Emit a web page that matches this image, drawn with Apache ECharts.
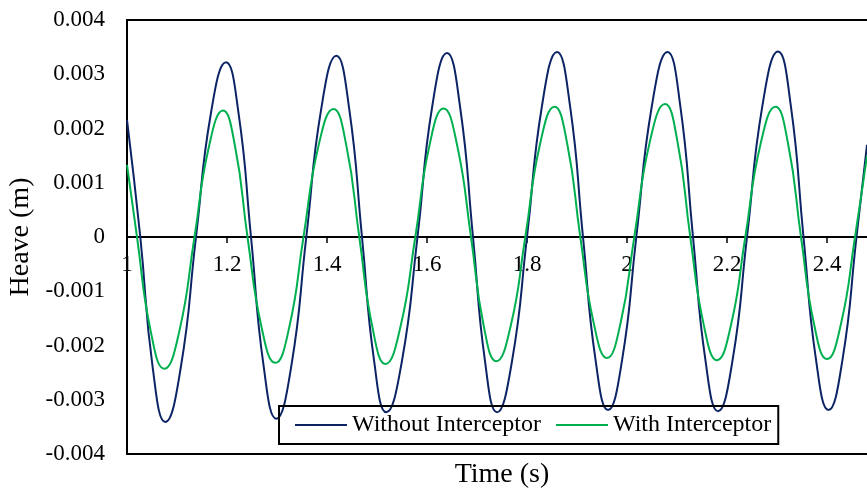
<!DOCTYPE html>
<html>
<head>
<meta charset="utf-8">
<script src="https://cdn.jsdelivr.net/npm/echarts@6/dist/echarts.min.js"></script>
<style>
  html, body { margin: 0; padding: 0; background: #fff; }
  #chart { width: 867px; height: 491px; }
</style>
</head>
<body>
<div id="chart"></div>
<script>
// time (s) and heave (m):
// zero crossings, points halfway in time to each extremum, peaks and troughs
const timeWithout = [1.000, 1.0266, 1.0516, 1.0766, 1.1073,
  1.138, 1.168, 1.198, 1.223, 1.248, 1.2733, 1.2986, 1.3286,
  1.3586, 1.3886, 1.4186, 1.4443, 1.470, 1.4943, 1.5186, 1.5498,
  1.581, 1.6105, 1.640, 1.666, 1.692, 1.716, 1.740, 1.770,
  1.800, 1.830, 1.860, 1.886, 1.912, 1.937, 1.962, 1.9903,
  2.0186, 2.0498, 2.081, 2.1065, 2.132, 2.157, 2.182, 2.211,
  2.240, 2.271, 2.302, 2.3275, 2.353, 2.378, 2.403, 2.431,
  2.459, 2.480]
const heaveWithout = [0.00216, 0, -0.00242, -0.00341, -0.00242,
  0, 0.00229, 0.00322, 0.00229, 0, -0.00238, -0.00335, -0.00238,
  0, 0.00237, 0.00334, 0.00237, 0, -0.00229, -0.00323, -0.00229,
  0, 0.00241, 0.00339, 0.00241, 0, -0.00229, -0.00323, -0.00229,
  0, 0.00242, 0.00341, 0.00242, 0, -0.00226, -0.00319, -0.00226,
  0, 0.00242, 0.00341, 0.00242, 0, -0.00228, -0.00321, -0.00228,
  0, 0.00243, 0.00342, 0.00243, 0, -0.00226, -0.00319, -0.00226,
  0, 0.00170]

const timeWith = [1.000, 1.020, 1.0473, 1.0746, 1.1048,
  1.135, 1.1635, 1.192, 1.2165, 1.241, 1.2688, 1.2966, 1.3248,
  1.353, 1.383, 1.413, 1.4388, 1.4646, 1.4908, 1.517, 1.5468,
  1.5766, 1.6048, 1.633, 1.6605, 1.688, 1.7133, 1.7386, 1.7676,
  1.7966, 1.8258, 1.855, 1.8808, 1.9066, 1.9333, 1.960, 1.9873,
  2.0146, 2.0453, 2.076, 2.1013, 2.1266, 2.1533, 2.180, 2.2083,
  2.2366, 2.2668, 2.297, 2.3225, 2.348, 2.374, 2.400, 2.428,
  2.456, 2.480]
const heaveWith = [0.00133, 0, -0.00173, -0.00243, -0.00173,
  0, 0.00165, 0.00233, 0.00165, 0, -0.00165, -0.00232, -0.00165,
  0, 0.00168, 0.00236, 0.00168, 0, -0.00166, -0.00234, -0.00166,
  0, 0.00168, 0.00237, 0.00168, 0, -0.00163, -0.00229, -0.00163,
  0, 0.00170, 0.00240, 0.00170, 0, -0.00158, -0.00223, -0.00158,
  0, 0.00174, 0.00245, 0.00174, 0, -0.00161, -0.00227, -0.00161,
  0, 0.00170, 0.00240, 0.00170, 0, -0.00160, -0.00225, -0.00160,
  0, 0.00150]

const seriesNames = ['Without Interceptor', 'With Interceptor']
const seriesColors = ['#0c2466', '#00b050']

const font = 'Liberation Serif, Times New Roman, serif'
const chart = echarts.init(document.getElementById('chart'))

function pairs(xs, ys) {
  return xs.map((x, i) => [x, ys[i]])
}

const option = {
  animation: false,
  textStyle: { fontFamily: font, color: '#000' },
  grid: {
    left: 127, top: 20, width: 750, height: 434,
    outerBoundsMode: 'none',
    containLabel: false,
    show: true, borderColor: '#000', borderWidth: 2, backgroundColor: 'transparent'
  },
  legend: {
    data: seriesNames,
    left: 279, top: 406,
    padding: [7, 7, 7, 16],
    itemGap: 15,
    icon: 'rect',
    itemWidth: 52, itemHeight: 2,
    borderColor: '#000', borderWidth: 2,
    textStyle: { fontFamily: font, fontSize: 24, color: '#000' }
  },
  xAxis: [
    {
      type: 'value', min: 1, max: 2.5, interval: 0.2,
      position: 'bottom', offset: -217,
      axisLine: { onZero: false, lineStyle: { color: '#000', width: 2 } },
      axisTick: { show: true, length: 6, lineStyle: { color: '#000', width: 1.5 } },
      axisLabel: { fontFamily: font, fontSize: 23, color: '#000', margin: 16, showMaxLabel: false },
      splitLine: { show: false }
    },
    {
      type: 'value', min: 1, max: 2.5, position: 'bottom',
      axisLine: { show: false, onZero: false },
      axisTick: { show: false },
      axisLabel: { show: false },
      splitLine: { show: false },
      name: 'Time (s)', nameLocation: 'middle', nameGap: 7,
      nameTextStyle: { fontFamily: font, fontSize: 28, color: '#000' }
    }
  ],
  yAxis: {
    type: 'value', min: -0.004, max: 0.004, interval: 0.001,
    axisLine: { show: true, onZero: false, lineStyle: { color: '#000', width: 2 } },
    axisTick: { show: false },
    axisLabel: { fontFamily: font, fontSize: 23, color: '#000', margin: 22 },
    splitLine: { show: false },
    name: 'Heave (m)', nameLocation: 'middle', nameGap: 88,
    nameTextStyle: { fontFamily: font, fontSize: 28, color: '#000' }
  },
  series: [
    {
      name: seriesNames[0], type: 'line', xAxisIndex: 0,
      data: pairs(timeWithout, heaveWithout),
      smooth: true, symbol: 'none',
      lineStyle: { color: seriesColors[0], width: 2 },
      itemStyle: { color: seriesColors[0] }
    },
    {
      name: seriesNames[1], type: 'line', xAxisIndex: 0,
      data: pairs(timeWith, heaveWith),
      smooth: true, symbol: 'none',
      lineStyle: { color: seriesColors[1], width: 2 },
      itemStyle: { color: seriesColors[1] }
    }
  ]
}

chart.setOption(option)
</script>
</body>
</html>
